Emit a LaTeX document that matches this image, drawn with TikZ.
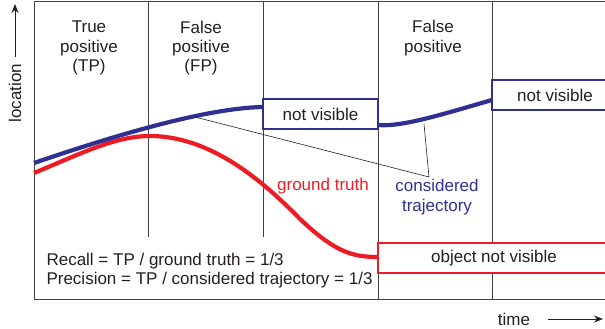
\documentclass[tikz,border=0pt]{standalone}
\usepackage{fontspec}
\setmainfont{Liberation Sans}
\usetikzlibrary{arrows.meta, positioning}
\definecolor{trajblue}{RGB}{46,49,146}
\definecolor{truthred}{RGB}{237,28,36}
\definecolor{inkgray}{RGB}{35,31,32}

\begin{document}
\begin{tikzpicture}[x=1pt, y=-1pt, font=\fontsize{17}{19.3}\selectfont, text=inkgray,
  slice/.style={draw=inkgray!85, line width=0.8pt},
  nvbox/.style={draw=#1, line width=1.2pt, fill=white, minimum height=30pt, inner sep=0pt},
  curve/.style={line width=4.2pt, #1},
  arr/.style={-{Stealth[length=9pt, width=7pt]}, line width=1pt, inkgray}]
  \useasboundingbox (0,0) rectangle (605,329);

  % Frame and time slices
  \draw[slice] (606,1) -- (34,1) -- (34,299) -- (606,299);
  \foreach \x in {148,263}{
    \draw[slice] (\x,1) -- (\x,237);
  }
  \foreach \x in {378,492}{
    \draw[slice] (\x,1) -- (\x,299);
  }

  % Slice labels
  \node[align=center] (tp) at (89,48) {True\\positive\\(TP)};
  \node[align=center] (fp) at (201,48) {False\\positive\\(FP)};
  \node[align=center] (fp2) at (433,38) {False\\positive};

  % Curve points
  \coordinate (b0) at (34,163);
  \coordinate (b1) at (263,107);
  \coordinate (b2) at (378,125);
  \coordinate (b3) at (492,100);
  \coordinate (r0) at (34,173);
  \coordinate (r1) at (150,136);
  \coordinate (r2) at (300,219);
  \coordinate (r3) at (378,257);

  % Ground truth
  \draw[curve=truthred] (r0) .. controls (80,154) and (115,136) .. (r1)
    .. controls (210,136) and (262,180) .. (r2)
    .. controls (335,252) and (352,257) .. (r3);

  % Considered trajectory
  \draw[curve=trajblue] (b0) .. controls (110,137) and (205,108) .. (b1);
  \draw[curve=trajblue] (b2) .. controls (402,127) and (440,115) .. (b3);

  % Visibility boxes
  \node[nvbox=trajblue, minimum width=115pt] (nv1) at (320.5,114) {not visible};
  \node[nvbox=trajblue, minimum width=126pt] (nv2) at (555,95) {not visible};
  \node[nvbox=truthred, minimum width=232pt] (ov) at (494,258) {object not visible};

  % Curve labels
  \node[text=truthred] (gt) at (323,186) {ground truth};
  \node[text=trajblue, align=center] (ctl) at (437,197) {considered\\trajectory};
  \coordinate (ct) at (429,177);
  \coordinate (p1) at (195,117);
  \coordinate (p2) at (424,124);
  \draw[inkgray, line width=0.6pt] (p1) -- (ct) -- (p2);

  % Measures
  \node[anchor=west, align=left] (meas) at (43,270.5)
    {Recall = TP / ground truth = 1/3\\Precision = TP / considered trajectory = 1/3};

  % Axes
  \node[rotate=90, inner sep=0pt] (loc) at (15,93) {location};
  \coordinate (loctip) at (15,4);
  \draw[arr] ([yshift=7pt]loc.east) -- (loctip);
  \node[inner sep=0pt] (time) at (514,319) {time};
  \coordinate (timetip) at (603,319);
  \draw[arr] ([xshift=18pt]time.east) -- (timetip);
\end{tikzpicture}
\end{document}
